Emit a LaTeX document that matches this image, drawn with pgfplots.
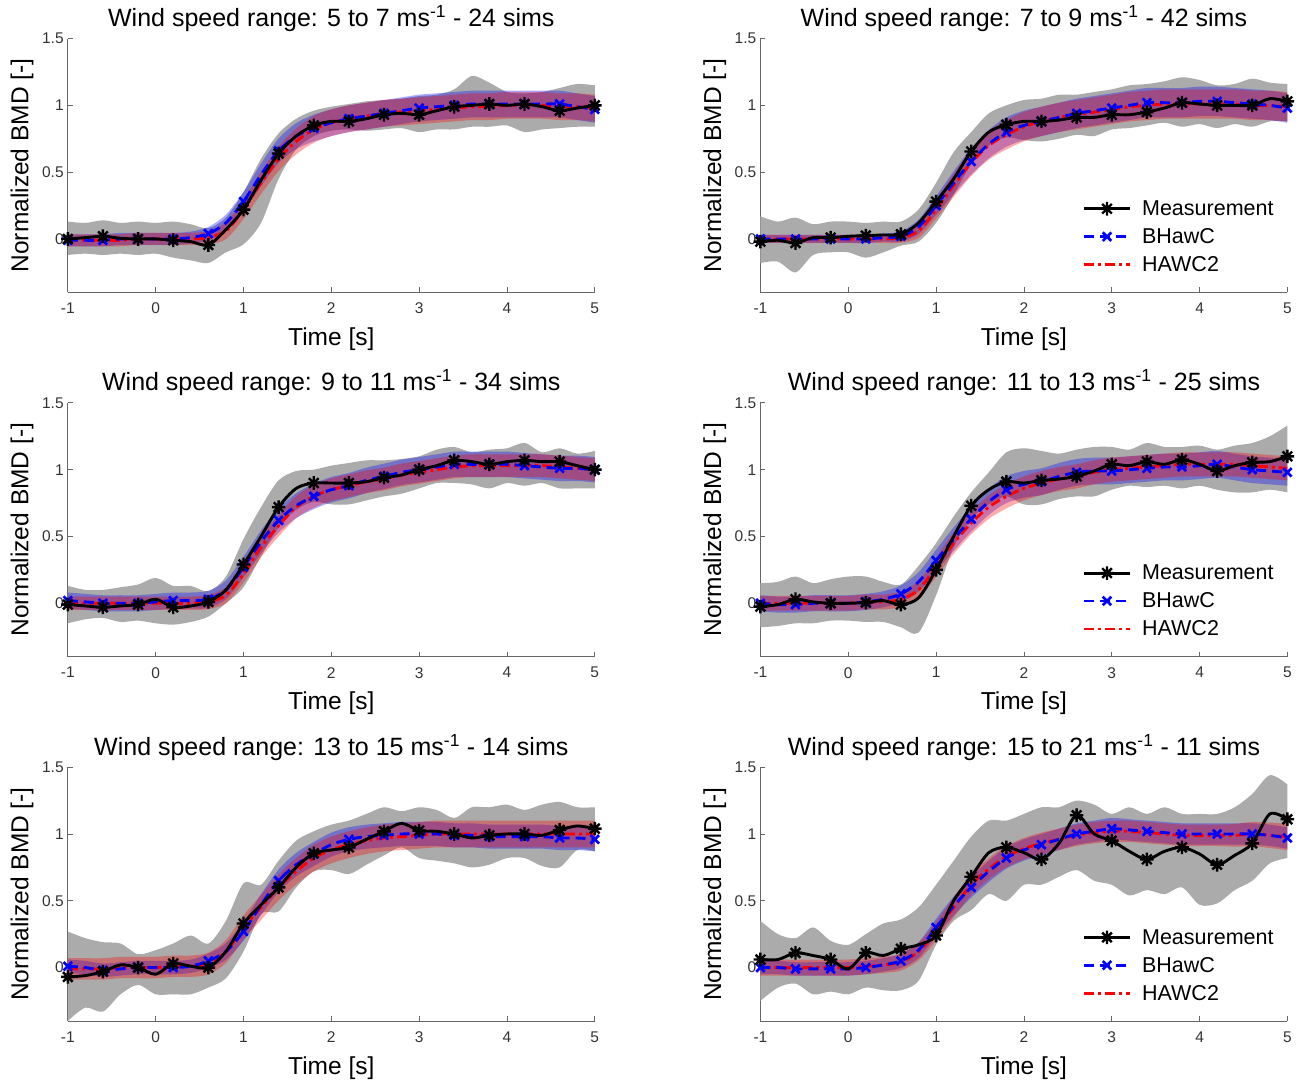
\documentclass[border=0pt]{standalone}
\usepackage{fontspec}
\setmainfont{Liberation Sans}
\usepackage{pgfplots}
\pgfplotsset{compat=1.18}
\usepackage{pgfplotstable}
\usepgfplotslibrary{fillbetween}

\definecolor{gband}{gray}{0.67}

\pgfdeclareplotmark{ast8}{%
  \pgfpathmoveto{\pgfqpoint{-\pgfplotmarksize}{0pt}}\pgfpathlineto{\pgfqpoint{\pgfplotmarksize}{0pt}}%
  \pgfpathmoveto{\pgfqpoint{0pt}{-\pgfplotmarksize}}\pgfpathlineto{\pgfqpoint{0pt}{\pgfplotmarksize}}%
  \pgfpathmoveto{\pgfqpoint{-0.707\pgfplotmarksize}{-0.707\pgfplotmarksize}}\pgfpathlineto{\pgfqpoint{0.707\pgfplotmarksize}{0.707\pgfplotmarksize}}%
  \pgfpathmoveto{\pgfqpoint{-0.707\pgfplotmarksize}{0.707\pgfplotmarksize}}\pgfpathlineto{\pgfqpoint{0.707\pgfplotmarksize}{-0.707\pgfplotmarksize}}%
  \pgfusepathqstroke}

\pgfplotsset{
  legend image code/.code={\draw[mark repeat=2,mark phase=2,#1] plot coordinates {(0pt,0pt) (22.65pt,0pt) (45.3pt,0pt)};},
  mstyle/.style={black, line width=2.9pt, solid, mark=ast8, mark size=6.8pt, mark options={solid, line width=2.4pt}},
  bstyle/.style={blue, line width=2.9pt, dash pattern=on 10pt off 6pt, mark=x, mark size=6pt, mark options={solid, line width=2.7pt}},
  hstyle/.style={red, line width=2.9pt, dash pattern=on 10pt off 4pt on 3pt off 4pt},
  panel/.style={
    scale only axis, width=527pt, height=253.8pt,
    xmin=-1, xmax=5, ymin=-0.4, ymax=1.5,
    axis x line=bottom, axis y line=left,
    axis line style={-, draw=black!60, line width=0.8pt},
    xtick={-1,0,1,2,3,4,5}, xticklabels={-1,0,1,2,3,4,5},
    ytick={0,0.5,1,1.5}, yticklabels={0,0.5,1,1.5},
    tick align=inside, major tick length=5pt,
    tick style={draw=black!60, line width=0.8pt},
    xticklabel style={font=\fontsize{15.5}{18}\selectfont, text=black!80, yshift=-7pt},
    yticklabel style={font=\fontsize{15.5}{18}\selectfont, text=black!80, xshift=-0.6pt},
    xlabel={Time [s]}, ylabel={Normalized BMD [-]},
    xlabel style={font=\fontsize{24.5}{28}\selectfont, at={(axis description cs:0.5,0)}, anchor=base, yshift=-53.2pt},
    ylabel style={font=\fontsize{24.5}{28}\selectfont, at={(axis description cs:-0.0746,0.5)}, anchor=base},
    title style={font=\fontsize{25}{30}\selectfont, at={(axis description cs:0.5,1)}, anchor=base, yshift=6pt},
    clip mode=individual,
    legend cell align=left,
    legend style={draw=none, fill=none, inner sep=0pt, at={(axis description cs:0.6116,0.3703)}, anchor=north west,
      font=\fontsize{21.5}{25}\selectfont, row sep=7.5pt, column sep=9pt,
      nodes={inner sep=2pt, text depth=0.15em}},
  }
}

% columns: time, measurement, measurement band low/high, BHawC mean and half-width, HAWC2 mean and half-width
\pgfplotstableread{
t m glo ghi b bs h hs
-1.0 0.00 -0.12 0.13 -0.01 0.045 -0.01 0.045
-0.8 0.01 -0.11 0.12 -0.01 0.045 -0.01 0.045
-0.6 0.02 -0.12 0.14 -0.01 0.045 -0.01 0.045
-0.4 0.005 -0.11 0.12 0.00 0.045 -0.01 0.045
-0.2 0.00 -0.12 0.13 0.00 0.045 0.00 0.045
0.0 0.00 -0.11 0.12 0.00 0.045 0.00 0.045
0.2 -0.01 -0.14 0.13 0.00 0.045 0.00 0.045
0.4 -0.02 -0.16 0.11 0.01 0.045 0.00 0.045
0.6 -0.045 -0.18 0.08 0.04 0.05 0.01 0.05
0.8 0.07 -0.10 0.16 0.12 0.062 0.06 0.062
1.0 0.22 -0.04 0.35 0.28 0.072 0.22 0.072
1.2 0.44 0.12 0.60 0.48 0.084 0.42 0.084
1.4 0.64 0.45 0.79 0.66 0.092 0.60 0.092
1.6 0.77 0.67 0.90 0.77 0.097 0.73 0.097
1.8 0.85 0.77 0.96 0.83 0.10 0.82 0.10
2.0 0.88 0.81 0.99 0.87 0.10 0.87 0.10
2.2 0.88 0.82 1.01 0.90 0.10 0.90 0.10
2.4 0.90 0.81 1.03 0.92 0.10 0.92 0.10
2.6 0.93 0.82 1.04 0.94 0.10 0.94 0.10
2.8 0.94 0.83 1.05 0.96 0.10 0.95 0.10
3.0 0.93 0.80 1.07 0.98 0.10 0.96 0.10
3.2 0.96 0.82 1.08 0.99 0.10 0.97 0.10
3.4 0.99 0.82 1.12 1.00 0.10 0.98 0.10
3.6 1.00 0.84 1.22 1.01 0.10 0.99 0.10
3.8 1.01 0.84 1.17 1.01 0.10 0.99 0.10
4.0 1.00 0.85 1.10 1.01 0.10 1.00 0.10
4.2 1.01 0.80 1.09 1.01 0.10 1.00 0.10
4.4 0.99 0.82 1.10 1.01 0.10 1.00 0.10
4.6 0.96 0.83 1.13 1.01 0.10 0.99 0.10
4.8 0.98 0.84 1.16 0.99 0.10 0.99 0.10
5.0 1.00 0.84 1.15 0.97 0.10 0.98 0.10
}\Pone

\pgfplotstableread{
t m glo ghi b bs h hs
-1.0 -0.02 -0.18 0.17 0.00 0.03 0.00 0.03
-0.8 -0.01 -0.17 0.13 0.00 0.03 0.00 0.03
-0.6 -0.03 -0.25 0.16 0.00 0.03 0.00 0.03
-0.4 0.01 -0.12 0.11 0.00 0.03 0.00 0.03
-0.2 0.01 -0.10 0.13 0.00 0.03 0.00 0.03
0.0 0.02 -0.10 0.13 0.00 0.03 0.00 0.03
0.2 0.025 -0.14 0.12 0.00 0.03 0.00 0.03
0.4 0.03 -0.10 0.13 0.01 0.03 0.00 0.03
0.6 0.035 -0.05 0.13 0.02 0.038 0.01 0.038
0.8 0.12 -0.02 0.22 0.09 0.054 0.06 0.054
1.0 0.28 0.12 0.42 0.25 0.07 0.22 0.07
1.2 0.45 0.33 0.65 0.42 0.086 0.40 0.086
1.4 0.655 0.56 0.80 0.58 0.098 0.57 0.098
1.6 0.80 0.70 0.94 0.71 0.106 0.70 0.106
1.8 0.855 0.76 1.00 0.80 0.11 0.78 0.11
2.0 0.88 0.74 1.04 0.85 0.11 0.84 0.11
2.2 0.88 0.73 1.05 0.88 0.11 0.88 0.11
2.4 0.89 0.75 1.08 0.91 0.11 0.91 0.11
2.6 0.91 0.78 1.08 0.94 0.11 0.93 0.11
2.8 0.91 0.77 1.10 0.96 0.11 0.95 0.11
3.0 0.93 0.82 1.12 0.98 0.11 0.97 0.11
3.2 0.93 0.83 1.15 1.00 0.11 0.99 0.11
3.4 0.95 0.85 1.16 1.02 0.11 1.00 0.11
3.6 0.98 0.87 1.18 1.02 0.11 1.01 0.11
3.8 1.02 0.84 1.21 1.02 0.11 1.01 0.11
4.0 1.01 0.86 1.19 1.03 0.11 1.01 0.11
4.2 1.00 0.83 1.15 1.03 0.11 1.01 0.11
4.4 1.00 0.86 1.16 1.02 0.11 1.01 0.11
4.6 1.00 0.84 1.20 1.01 0.11 1.00 0.11
4.8 1.05 0.88 1.17 1.00 0.11 1.00 0.11
5.0 1.03 0.88 1.16 0.98 0.11 0.99 0.11
}\Ptwo

\pgfplotstableread{
t m glo ghi b bs h hs
-1.0 -0.01 -0.15 0.13 0.02 0.06 0.00 0.05
-0.8 -0.02 -0.12 0.10 0.01 0.06 0.00 0.05
-0.6 -0.03 -0.11 0.10 0.00 0.06 0.00 0.05
-0.4 -0.02 -0.14 0.12 0.00 0.06 0.00 0.05
-0.2 -0.01 -0.13 0.14 0.00 0.06 0.00 0.05
0.0 0.03 -0.15 0.19 0.01 0.06 0.00 0.05
0.2 -0.03 -0.16 0.13 0.02 0.06 0.00 0.05
0.4 -0.02 -0.14 0.13 0.02 0.06 0.00 0.05
0.6 0.01 -0.10 0.09 0.03 0.064 0.01 0.054
0.8 0.10 0.00 0.20 0.10 0.07 0.06 0.06
1.0 0.29 0.12 0.48 0.27 0.078 0.22 0.068
1.2 0.50 0.35 0.72 0.46 0.085 0.42 0.075
1.4 0.72 0.57 0.92 0.62 0.09 0.58 0.08
1.6 0.86 0.70 0.99 0.73 0.093 0.72 0.083
1.8 0.90 0.76 1.00 0.80 0.095 0.80 0.085
2.0 0.90 0.74 1.03 0.85 0.095 0.85 0.085
2.2 0.90 0.74 1.05 0.88 0.095 0.88 0.085
2.4 0.91 0.77 1.07 0.92 0.095 0.91 0.085
2.6 0.94 0.80 1.07 0.95 0.095 0.93 0.085
2.8 0.96 0.82 1.08 0.98 0.095 0.96 0.085
3.0 1.00 0.86 1.10 1.00 0.095 0.98 0.085
3.2 1.03 0.90 1.15 1.02 0.095 1.00 0.085
3.4 1.07 0.90 1.17 1.04 0.095 1.02 0.085
3.6 1.06 0.89 1.13 1.04 0.095 1.03 0.085
3.8 1.04 0.86 1.15 1.04 0.095 1.03 0.085
4.0 1.06 0.90 1.16 1.04 0.095 1.03 0.085
4.2 1.07 0.88 1.20 1.03 0.095 1.03 0.085
4.4 1.06 0.90 1.13 1.02 0.095 1.03 0.085
4.6 1.06 0.86 1.16 1.01 0.095 1.02 0.085
4.8 1.03 0.86 1.12 1.01 0.095 1.01 0.085
5.0 1.00 0.86 1.14 1.00 0.095 1.00 0.085
}\Pthree

\pgfplotstableread{
t m glo ghi b bs h hs
-1.0 -0.025 -0.18 0.15 0.00 0.06 0.00 0.055
-0.8 -0.01 -0.17 0.16 -0.01 0.06 0.00 0.055
-0.6 0.03 -0.15 0.20 -0.01 0.06 0.00 0.055
-0.4 0.01 -0.15 0.15 0.00 0.06 0.00 0.055
-0.2 0.00 -0.13 0.18 0.00 0.06 0.00 0.055
0.0 0.00 -0.13 0.20 0.00 0.06 0.00 0.055
0.2 0.005 -0.14 0.20 0.01 0.06 0.01 0.055
0.4 0.02 -0.14 0.16 0.03 0.06 0.01 0.055
0.6 -0.01 -0.18 0.14 0.07 0.064 0.03 0.059
0.8 0.04 -0.22 0.28 0.16 0.072 0.10 0.066
1.0 0.25 0.06 0.45 0.32 0.08 0.27 0.072
1.2 0.50 0.42 0.65 0.48 0.088 0.45 0.08
1.4 0.73 0.63 0.83 0.63 0.094 0.60 0.085
1.6 0.85 0.74 0.98 0.76 0.098 0.72 0.088
1.8 0.91 0.80 1.13 0.85 0.10 0.80 0.09
2.0 0.90 0.74 1.16 0.89 0.10 0.86 0.09
2.2 0.92 0.74 1.14 0.91 0.10 0.90 0.09
2.4 0.93 0.78 1.12 0.95 0.10 0.93 0.09
2.6 0.95 0.80 1.15 0.98 0.10 0.95 0.09
2.8 0.99 0.80 1.17 0.99 0.10 0.98 0.09
3.0 1.04 0.85 1.17 0.99 0.10 1.00 0.09
3.2 1.03 0.88 1.15 1.00 0.10 1.01 0.09
3.4 1.06 0.87 1.20 1.01 0.10 1.02 0.09
3.6 1.04 0.88 1.17 1.02 0.10 1.03 0.09
3.8 1.075 0.86 1.17 1.02 0.10 1.04 0.09
4.0 1.04 0.88 1.18 1.03 0.10 1.04 0.09
4.2 0.99 0.85 1.15 1.04 0.10 1.04 0.09
4.4 1.03 0.83 1.18 1.02 0.10 1.04 0.09
4.6 1.055 0.83 1.20 1.00 0.10 1.03 0.09
4.8 1.06 0.85 1.25 0.99 0.10 1.02 0.09
5.0 1.10 0.83 1.33 0.98 0.10 1.01 0.09
}\Pfour

\pgfplotstableread{
t m glo ghi b bs h hs
-1.0 -0.07 -0.40 0.27 0.01 0.05 -0.01 0.08
-0.8 -0.06 -0.30 0.22 0.00 0.05 -0.01 0.08
-0.6 -0.03 -0.33 0.19 -0.02 0.05 -0.01 0.08
-0.4 0.02 -0.20 0.18 -0.01 0.05 0.00 0.08
-0.2 0.00 -0.13 0.10 0.00 0.05 0.00 0.08
0.0 -0.05 -0.20 0.13 0.00 0.05 0.00 0.08
0.2 0.03 -0.20 0.18 0.00 0.05 0.01 0.08
0.4 0.01 -0.20 0.24 0.01 0.05 0.01 0.08
0.6 0.00 -0.15 0.18 0.05 0.054 0.03 0.082
0.8 0.12 -0.08 0.35 0.12 0.062 0.12 0.086
1.0 0.33 0.12 0.63 0.27 0.07 0.30 0.09
1.2 0.47 0.40 0.62 0.47 0.078 0.45 0.094
1.4 0.60 0.42 0.80 0.65 0.084 0.60 0.097
1.6 0.75 0.60 0.95 0.77 0.088 0.72 0.099
1.8 0.855 0.72 1.02 0.85 0.09 0.82 0.10
2.0 0.88 0.73 1.07 0.92 0.09 0.88 0.10
2.2 0.90 0.70 1.10 0.96 0.09 0.92 0.10
2.4 0.96 0.77 1.15 0.98 0.09 0.95 0.10
2.6 1.02 0.84 1.20 0.99 0.09 0.97 0.10
2.8 1.08 0.90 1.17 1.00 0.09 0.98 0.10
3.0 1.025 0.82 1.20 1.00 0.09 0.99 0.10
3.2 1.02 0.80 1.18 1.00 0.09 1.00 0.10
3.4 1.00 0.78 1.12 0.99 0.09 1.00 0.10
3.6 0.97 0.75 1.20 0.99 0.09 1.00 0.10
3.8 0.99 0.77 1.20 0.98 0.09 1.00 0.10
4.0 1.00 0.82 1.22 0.98 0.09 1.00 0.10
4.2 1.00 0.82 1.18 0.98 0.09 1.00 0.10
4.4 0.99 0.76 1.22 0.98 0.09 1.00 0.10
4.6 1.03 0.75 1.24 0.97 0.09 1.00 0.10
4.8 1.06 0.88 1.20 0.97 0.09 1.00 0.10
5.0 1.04 0.87 1.20 0.96 0.09 1.00 0.10
}\Pfive

\pgfplotstableread{
t m glo ghi b bs h hs
-1.0 0.06 -0.25 0.35 0.00 0.05 0.00 0.06
-0.8 0.06 -0.15 0.25 0.00 0.05 0.00 0.06
-0.6 0.11 -0.12 0.22 -0.01 0.05 0.00 0.06
-0.4 0.09 -0.20 0.30 -0.01 0.05 0.00 0.06
-0.2 0.06 -0.18 0.20 -0.01 0.05 0.00 0.06
0.0 -0.01 -0.20 0.17 -0.01 0.05 0.00 0.06
0.2 0.11 -0.15 0.25 0.00 0.05 0.01 0.06
0.4 0.09 -0.17 0.33 0.02 0.05 0.02 0.06
0.6 0.14 -0.17 0.36 0.05 0.053 0.04 0.062
0.8 0.17 -0.10 0.45 0.13 0.059 0.12 0.066
1.0 0.24 0.17 0.62 0.30 0.065 0.27 0.07
1.2 0.50 0.35 0.80 0.46 0.071 0.45 0.074
1.4 0.68 0.43 0.98 0.60 0.076 0.62 0.077
1.6 0.86 0.55 1.10 0.72 0.079 0.74 0.079
1.8 0.90 0.50 1.10 0.82 0.08 0.83 0.08
2.0 0.86 0.62 1.15 0.88 0.08 0.89 0.08
2.2 0.81 0.62 1.20 0.92 0.08 0.93 0.08
2.4 0.93 0.68 1.20 0.96 0.08 0.96 0.08
2.6 1.14 0.73 1.25 1.00 0.08 0.99 0.08
2.8 1.00 0.65 1.22 1.02 0.08 1.01 0.08
3.0 0.95 0.62 1.15 1.04 0.08 1.02 0.08
3.2 0.87 0.54 1.20 1.03 0.08 1.02 0.08
3.4 0.81 0.58 1.15 1.02 0.08 1.01 0.08
3.6 0.87 0.55 1.20 1.01 0.08 1.00 0.08
3.8 0.90 0.60 1.15 1.00 0.08 0.99 0.08
4.0 0.85 0.47 1.15 1.00 0.08 0.99 0.08
4.2 0.77 0.48 1.15 1.00 0.08 0.99 0.08
4.4 0.84 0.58 1.20 1.00 0.08 0.99 0.085
4.6 0.93 0.65 1.30 1.00 0.08 1.00 0.09
4.8 1.15 0.78 1.44 0.99 0.08 0.99 0.095
5.0 1.11 0.82 1.37 0.97 0.08 0.98 0.10
}\Psix

\newcommand{\panelplots}[1]{%
  \addplot[draw=none, smooth, name path=gl, forget plot] table[x=t, y=glo]{#1};
  \addplot[draw=none, smooth, name path=gh, forget plot] table[x=t, y=ghi]{#1};
  \addplot[fill=gband, draw=none, forget plot] fill between[of=gl and gh];
  \addplot[draw=none, smooth, name path=bl, forget plot] table[x=t, y expr=\thisrow{b}-\thisrow{bs}]{#1};
  \addplot[draw=none, smooth, name path=bh, forget plot] table[x=t, y expr=\thisrow{b}+\thisrow{bs}]{#1};
  \addplot[fill=blue, fill opacity=0.33, draw=none, forget plot] fill between[of=bl and bh];
  \addplot[draw=none, smooth, name path=hl, forget plot] table[x=t, y expr=\thisrow{h}-\thisrow{hs}]{#1};
  \addplot[draw=none, smooth, name path=hh, forget plot] table[x=t, y expr=\thisrow{h}+\thisrow{hs}]{#1};
  \addplot[fill=red, fill opacity=0.33, draw=none, forget plot] fill between[of=hl and hh];
  \addplot[hstyle, smooth, forget plot] table[x=t, y=h]{#1};
  \addplot[bstyle, smooth, mark repeat=2, forget plot] table[x=t, y=b]{#1};
  \addplot[mstyle, smooth, mark repeat=2, forget plot] table[x=t, y=m]{#1};
}
\newcommand{\panellegend}{%
  \addlegendimage{mstyle}\addlegendentry{Measurement}
  \addlegendimage{bstyle}\addlegendentry{BHawC}
  \addlegendimage{hstyle}\addlegendentry{HAWC2}
}

\begin{document}
\begin{tikzpicture}

\begin{axis}[panel, at={(67.8pt,790.6pt)}, anchor=south west,
  title={Wind speed range: 5 to 7 ms\textsuperscript{-1} - 24 sims}]
\panelplots{\Pone}
\end{axis}

\begin{axis}[panel, at={(760.4pt,790.6pt)}, anchor=south west,
  title={Wind speed range: 7 to 9 ms\textsuperscript{-1} - 42 sims}]
\panelplots{\Ptwo}
\panellegend
\end{axis}

\begin{axis}[panel, at={(67.8pt,426.3pt)}, anchor=south west,
  title={Wind speed range: 9 to 11 ms\textsuperscript{-1} - 34 sims}]
\panelplots{\Pthree}
\end{axis}

\begin{axis}[panel, at={(760.4pt,426.3pt)}, anchor=south west,
  title={Wind speed range: 11 to 13 ms\textsuperscript{-1} - 25 sims}]
\panelplots{\Pfour}
\panellegend
\end{axis}

\begin{axis}[panel, at={(67.8pt,62pt)}, anchor=south west,
  title={Wind speed range: 13 to 15 ms\textsuperscript{-1} - 14 sims}]
\panelplots{\Pfive}
\end{axis}

\begin{axis}[panel, at={(760.4pt,62pt)}, anchor=south west,
  title={Wind speed range: 15 to 21 ms\textsuperscript{-1} - 11 sims}]
\panelplots{\Psix}
\panellegend
\end{axis}

\pgfresetboundingbox
\path (0pt,0pt) rectangle (1302pt,1083pt);
\end{tikzpicture}
\end{document}
